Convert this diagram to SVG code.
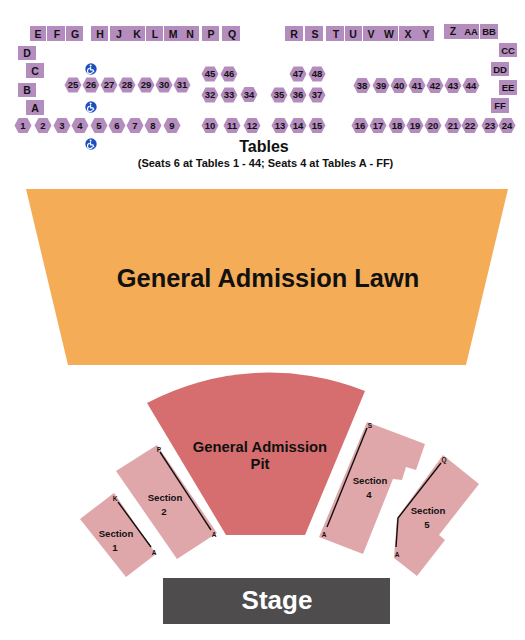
<svg xmlns="http://www.w3.org/2000/svg" width="525" height="640" viewBox="0 0 525 640">
<style>
text{font-family:"Liberation Sans",Arial,sans-serif;font-weight:bold;text-anchor:middle;fill:#111}
.t{fill:#b48cbe}
.tl{font-size:10.5px}
.hl{font-size:9.5px}
.sec{fill:#e0a7aa}
.sl{font-size:9.6px}
.rl{font-size:6.500px}
.ln{fill:none;stroke:#111;stroke-width:1.4}
</style>
<defs>
<polygon id="hx" class="t" points="-8.5,0 -4.5,-7.5 4.5,-7.5 8.5,0 4.5,7.5 -4.5,7.5"/>
<g id="wc"><circle r="5.7" fill="#1d4fc0"/><circle cx="-0.4" cy="-3.5" r="1" fill="#fff"/><path d="M-0.4,-2.3V0.9H1.9L3,3.2M-1.2,-0.6A2.6,2.600 0 1 0 1.600,2.700" fill="none" stroke="#fff" stroke-width="1.1"/></g>
</defs>
<g id="table-squares">
<g id="t-E"><rect class="t" x="30" y="26" width="16" height="15"/><text class="tl" x="38" y="37.500">E</text></g>
<g id="t-F"><rect class="t" x="47" y="26" width="18" height="15"/><text class="tl" x="57" y="37.500">F</text></g>
<g id="t-G"><rect class="t" x="66" y="26" width="17" height="15"/><text class="tl" x="75" y="37.500">G</text></g>
<g id="t-H"><rect class="t" x="91" y="26" width="17" height="15"/><text class="tl" x="100" y="37.500">H</text></g>
<g id="t-J"><rect class="t" x="110" y="26" width="18" height="15"/><text class="tl" x="119" y="37.500">J</text></g>
<g id="t-K"><rect class="t" x="128" y="26" width="17" height="15"/><text class="tl" x="137" y="37.500">K</text></g>
<g id="t-L"><rect class="t" x="146" y="26" width="17" height="15"/><text class="tl" x="155" y="37.500">L</text></g>
<g id="t-M"><rect class="t" x="164" y="26" width="18" height="15"/><text class="tl" x="173" y="37.500">M</text></g>
<g id="t-N"><rect class="t" x="182" y="26" width="17" height="15"/><text class="tl" x="190" y="37.500">N</text></g>
<g id="t-P"><rect class="t" x="202" y="26" width="17" height="15"/><text class="tl" x="211" y="37.500">P</text></g>
<g id="t-Q"><rect class="t" x="222" y="26" width="18" height="15"/><text class="tl" x="232" y="37.500">Q</text></g>
<g id="t-D"><rect class="t" x="18" y="46" width="18" height="14"/><text class="tl" x="27" y="57">D</text></g>
<g id="t-C"><rect class="t" x="26" y="63" width="18" height="15"/><text class="tl" x="35" y="75">C</text></g>
<g id="t-B"><rect class="t" x="18" y="83" width="18" height="14"/><text class="tl" x="27" y="94">B</text></g>
<g id="t-A"><rect class="t" x="26" y="100" width="18" height="15"/><text class="tl" x="35" y="112">A</text></g>
<g id="t-R"><rect class="t" x="285" y="26" width="18" height="15"/><text class="tl" x="294" y="37.500">R</text></g>
<g id="t-S"><rect class="t" x="305" y="26" width="18" height="15"/><text class="tl" x="315" y="37.500">S</text></g>
<g id="t-T"><rect class="t" x="326" y="26" width="18" height="15"/><text class="tl" x="336" y="37.500">T</text></g>
<g id="t-U"><rect class="t" x="345" y="26" width="17" height="15"/><text class="tl" x="353" y="37.500">U</text></g>
<g id="t-V"><rect class="t" x="363" y="26" width="17" height="15"/><text class="tl" x="371" y="37.500">V</text></g>
<g id="t-W"><rect class="t" x="380" y="26" width="18" height="15"/><text class="tl" x="389" y="37.500">W</text></g>
<g id="t-X"><rect class="t" x="399" y="26" width="18" height="15"/><text class="tl" x="408" y="37.500">X</text></g>
<g id="t-Y"><rect class="t" x="417" y="26" width="17" height="15"/><text class="tl" x="426" y="37.500">Y</text></g>
<g id="t-Z"><rect class="t" x="444" y="24" width="18" height="15"/><text class="tl" x="453" y="35">Z</text></g>
<g id="t-AA"><rect class="t" x="462" y="24" width="17" height="15"/><text class="hl" x="471" y="35">AA</text></g>
<g id="t-BB"><rect class="t" x="480" y="24" width="18" height="15"/><text class="hl" x="489" y="35">BB</text></g>
<g id="t-CC"><rect class="t" x="499" y="43" width="18" height="14"/><text class="hl" x="508" y="53.500">CC</text></g>
<g id="t-DD"><rect class="t" x="491" y="62" width="18" height="14"/><text class="hl" x="500" y="72.500">DD</text></g>
<g id="t-EE"><rect class="t" x="499" y="80" width="18" height="15"/><text class="hl" x="508" y="90.500">EE</text></g>
<g id="t-FF"><rect class="t" x="491" y="98" width="18" height="15"/><text class="hl" x="500" y="109">FF</text></g>
</g>
<g id="table-hexes">
<g id="t1" transform="translate(23,125.5)"><use href="#hx"/><text class="hl" y="3.300">1</text></g>
<g id="t2" transform="translate(43,125.5)"><use href="#hx"/><text class="hl" y="3.300">2</text></g>
<g id="t3" transform="translate(62,125.5)"><use href="#hx"/><text class="hl" y="3.300">3</text></g>
<g id="t4" transform="translate(80,125.5)"><use href="#hx"/><text class="hl" y="3.300">4</text></g>
<g id="t5" transform="translate(99,125.5)"><use href="#hx"/><text class="hl" y="3.300">5</text></g>
<g id="t6" transform="translate(117,125.5)"><use href="#hx"/><text class="hl" y="3.300">6</text></g>
<g id="t7" transform="translate(135,125.5)"><use href="#hx"/><text class="hl" y="3.300">7</text></g>
<g id="t8" transform="translate(153,125.5)"><use href="#hx"/><text class="hl" y="3.300">8</text></g>
<g id="t9" transform="translate(172,125.5)"><use href="#hx"/><text class="hl" y="3.300">9</text></g>
<g id="t10" transform="translate(210,125.5)"><use href="#hx"/><text class="hl" y="3.300">10</text></g>
<g id="t11" transform="translate(232,125.5)"><use href="#hx"/><text class="hl" y="3.300">11</text></g>
<g id="t12" transform="translate(252,125.5)"><use href="#hx"/><text class="hl" y="3.300">12</text></g>
<g id="t13" transform="translate(280,125.5)"><use href="#hx"/><text class="hl" y="3.300">13</text></g>
<g id="t14" transform="translate(298,125.5)"><use href="#hx"/><text class="hl" y="3.300">14</text></g>
<g id="t15" transform="translate(317,125.5)"><use href="#hx"/><text class="hl" y="3.300">15</text></g>
<g id="t16" transform="translate(360,125.5)"><use href="#hx"/><text class="hl" y="3.300">16</text></g>
<g id="t17" transform="translate(378,125.5)"><use href="#hx"/><text class="hl" y="3.300">17</text></g>
<g id="t18" transform="translate(397,125.5)"><use href="#hx"/><text class="hl" y="3.300">18</text></g>
<g id="t19" transform="translate(415,125.5)"><use href="#hx"/><text class="hl" y="3.300">19</text></g>
<g id="t20" transform="translate(433,125.5)"><use href="#hx"/><text class="hl" y="3.300">20</text></g>
<g id="t21" transform="translate(453,125.5)"><use href="#hx"/><text class="hl" y="3.300">21</text></g>
<g id="t22" transform="translate(470,125.5)"><use href="#hx"/><text class="hl" y="3.300">22</text></g>
<g id="t23" transform="translate(490,125.5)"><use href="#hx"/><text class="hl" y="3.300">23</text></g>
<g id="t24" transform="translate(507,125.5)"><use href="#hx"/><text class="hl" y="3.300">24</text></g>
<g id="t25" transform="translate(73,85)"><use href="#hx"/><text class="hl" y="3.300">25</text></g>
<g id="t26" transform="translate(91,85)"><use href="#hx"/><text class="hl" y="3.300">26</text></g>
<g id="t27" transform="translate(109,85)"><use href="#hx"/><text class="hl" y="3.300">27</text></g>
<g id="t28" transform="translate(127,85)"><use href="#hx"/><text class="hl" y="3.300">28</text></g>
<g id="t29" transform="translate(146,85)"><use href="#hx"/><text class="hl" y="3.300">29</text></g>
<g id="t30" transform="translate(164,85)"><use href="#hx"/><text class="hl" y="3.300">30</text></g>
<g id="t31" transform="translate(182,85)"><use href="#hx"/><text class="hl" y="3.300">31</text></g>
<g id="t32" transform="translate(210,95)"><use href="#hx"/><text class="hl" y="3.300">32</text></g>
<g id="t33" transform="translate(229,95)"><use href="#hx"/><text class="hl" y="3.300">33</text></g>
<g id="t34" transform="translate(249,94.5)"><use href="#hx"/><text class="hl" y="3.300">34</text></g>
<g id="t35" transform="translate(279,95)"><use href="#hx"/><text class="hl" y="3.300">35</text></g>
<g id="t36" transform="translate(298,95)"><use href="#hx"/><text class="hl" y="3.300">36</text></g>
<g id="t37" transform="translate(317,95)"><use href="#hx"/><text class="hl" y="3.300">37</text></g>
<g id="t38" transform="translate(362,85.5)"><use href="#hx"/><text class="hl" y="3.300">38</text></g>
<g id="t39" transform="translate(381,85.5)"><use href="#hx"/><text class="hl" y="3.300">39</text></g>
<g id="t40" transform="translate(399,85.5)"><use href="#hx"/><text class="hl" y="3.300">40</text></g>
<g id="t41" transform="translate(417,85.5)"><use href="#hx"/><text class="hl" y="3.300">41</text></g>
<g id="t42" transform="translate(435,85.5)"><use href="#hx"/><text class="hl" y="3.300">42</text></g>
<g id="t43" transform="translate(453,85.5)"><use href="#hx"/><text class="hl" y="3.300">43</text></g>
<g id="t44" transform="translate(471,85.5)"><use href="#hx"/><text class="hl" y="3.300">44</text></g>
<g id="t45" transform="translate(210,74)"><use href="#hx"/><text class="hl" y="3.300">45</text></g>
<g id="t46" transform="translate(229,74)"><use href="#hx"/><text class="hl" y="3.300">46</text></g>
<g id="t47" transform="translate(298,74)"><use href="#hx"/><text class="hl" y="3.300">47</text></g>
<g id="t48" transform="translate(317,74)"><use href="#hx"/><text class="hl" y="3.300">48</text></g>
</g>
<g id="accessible">
<use href="#wc" x="91" y="69"/>
<use href="#wc" x="91" y="107"/>
<use href="#wc" x="91" y="144"/>
</g>
<g id="tables-label">
<text x="264" y="152" font-size="16">Tables</text>
<text x="265.500" y="167" font-size="11">(Seats 6 at Tables 1 - 44; Seats 4 at Tables A - FF)</text>
</g>
<g id="lawn">
<polygon points="26,189 508,189 466,365 68,365" fill="#f4ac57"/>
<text x="268" y="287" font-size="25.400">General Admission Lawn</text>
</g>
<g id="pit">
<path d="M147,403A260,260 0 0 1 365,391L305,535H226Z" fill="#d66d6e"/>
<text x="260" y="451.500" font-size="14.800">General Admission</text>
<text x="260" y="469" font-size="14.800">Pit</text>
</g>
<g id="section-1">
<polygon class="sec" points="80,519 114,493 156,554 126,577"/>
<path class="ln" d="M118,502L151,547"/>
<text class="rl" x="115" y="500.500">K</text><text class="rl" x="154" y="554.500">A</text>
<text class="sl" x="116" y="537">Section</text><text class="sl" x="115" y="551">1</text>
</g>
<g id="section-2">
<polygon class="sec" points="116,471 157,445 217,533 177,559"/>
<path class="ln" d="M160,452L211,530"/>
<text class="rl" x="159" y="451.500">P</text><text class="rl" x="214" y="536.500">A</text>
<text class="sl" x="165" y="501">Section</text><text class="sl" x="164" y="515">2</text>
</g>
<g id="section-4">
<polygon class="sec" points="367,422 425,444 416,470 406,467 402,480 393,479 363,554 319,537"/>
<path class="ln" d="M367,428L327,527"/>
<text class="rl" x="370" y="427.500">S</text><text class="rl" x="324" y="536.500">A</text>
<text class="sl" x="370" y="484">Section</text><text class="sl" x="369" y="498">4</text>
</g>
<g id="section-5">
<polygon class="sec" points="443,455 479,484 439,535 445,540 417,576 394,558 397,518"/>
<path class="ln" d="M441,463L398,518L396,547"/>
<text class="rl" x="444" y="462">Q</text><text class="rl" x="397" y="556.500">A</text>
<text class="sl" x="428" y="514">Section</text><text class="sl" x="427" y="528">5</text>
</g>
<g id="stage">
<rect x="163" y="578" width="227" height="46" fill="#4f4c4e"/>
<text x="277" y="608.500" font-size="26" style="fill:#fff">Stage</text>
</g>
<g id="connectors"></g>
</svg>
